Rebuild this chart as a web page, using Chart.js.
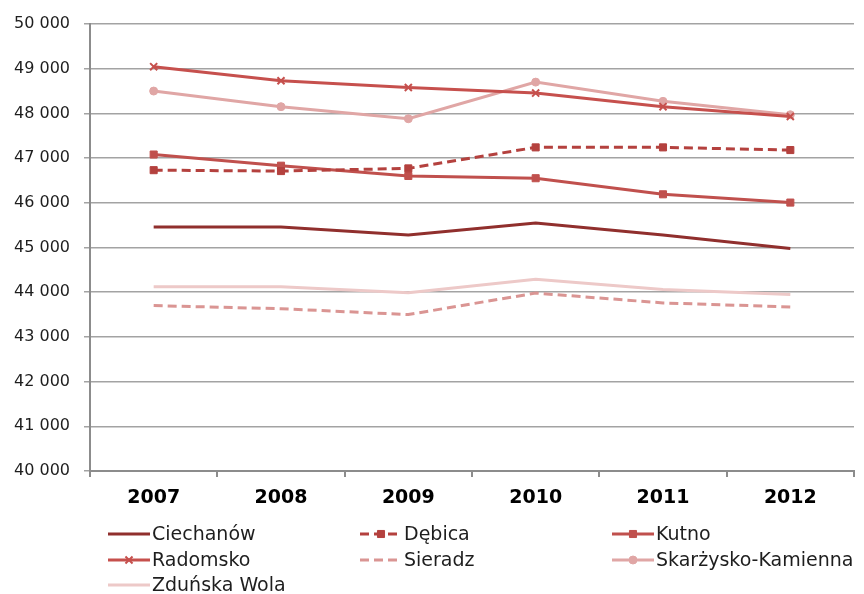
<!DOCTYPE html>
<html lang="pl">
<head>
    <meta charset="UTF-8">
    <title>Wykres</title>
    <script src="https://cdn.jsdelivr.net/npm/chart.js@4.4.0/dist/chart.umd.min.js"></script>
    <style>
        html, body { margin: 0; padding: 0; background: #fff; }
        .chart-wrapper { width: 864px; height: 594px; }
    </style>
</head>
<body>
<div class="chart-wrapper">
    <canvas id="chart" width="864" height="594"></canvas>
</div>
<script>
    const years = ['2007', '2008', '2009', '2010', '2011', '2012']

    const ciechanow = [45460, 45460, 45280, 45550, 45280, 44980]
    const debica = [46730, 46710, 46770, 47240, 47240, 47180]
    const kutno = [47080, 46830, 46600, 46550, 46190, 46005]
    const radomsko = [49045, 48730, 48580, 48455, 48150, 47930]
    const sieradz = [43700, 43630, 43500, 43980, 43760, 43670]
    const skarzysko = [48500, 48150, 47880, 48700, 48270, 47970]
    const zdunska = [44120, 44120, 43990, 44290, 44060, 43950]

    const yMin = 40000
    const yMax = 50000
    const yStep = 1000

    function series(label, data, color, extra) {
        return Object.assign({
            label: label,
            data: data,
            borderColor: color,
            backgroundColor: color,
            borderWidth: 3,
            pointRadius: 0,
            pointBorderWidth: 1,
            pointStyle: 'circle',
            tension: 0,
            fill: false
        }, extra || {})
    }

    const datasets = [
        series('Ciechanów', ciechanow, '#902f2d'),
        series('Dębica', debica, '#b4413e', {borderDash: [9, 5], pointStyle: 'rect', pointRadius: 5}),
        series('Kutno', kutno, '#c0504d', {pointStyle: 'rect', pointRadius: 5}),
        series('Radomsko', radomsko, '#c6504d', {pointStyle: 'crossRot', pointRadius: 5, pointBorderWidth: 2}),
        series('Sieradz', sieradz, '#da9593', {borderDash: [9, 5]}),
        series('Skarżysko-Kamienna', skarzysko, '#e0a6a5', {pointStyle: 'circle', pointRadius: 4}),
        series('Zduńska Wola', zdunska, '#edc9c8')
    ]

    // legend in three columns under the plot, like the original
    const gridLegend = {
        id: 'gridLegend',
        afterDraw(chart) {
            const ctx = chart.ctx
            const cols = [108, 360, 612]
            const rows = [534, 560, 585]
            ctx.save()
            chart.data.datasets.forEach((ds, i) => {
                const x = cols[i % 3]
                const y = rows[Math.floor(i / 3)]
                ctx.strokeStyle = ds.borderColor
                ctx.fillStyle = ds.backgroundColor
                ctx.lineWidth = 3
                ctx.setLineDash(ds.borderDash || [])
                ctx.beginPath()
                ctx.moveTo(x, y)
                ctx.lineTo(x + 42, y)
                ctx.stroke()
                ctx.setLineDash([])
                if (ds.pointRadius > 0) {
                    ctx.lineWidth = ds.pointBorderWidth
                    Chart.helpers.drawPoint(ctx, {
                        pointStyle: ds.pointStyle,
                        radius: ds.pointRadius,
                        borderWidth: ds.pointBorderWidth,
                        rotation: 0
                    }, x + 21, y)
                }
                ctx.fillStyle = '#1e1e1e'
                ctx.font = '19px "DejaVu Sans"'
                ctx.textBaseline = 'middle'
                ctx.textAlign = 'left'
                ctx.fillText(ds.label, x + 44, y + 1)
            })
            ctx.restore()
        }
    }

    new Chart(document.getElementById('chart'), {
        type: 'line',
        data: {
            labels: years,
            datasets: datasets
        },
        options: {
            responsive: false,
            animation: false,
            layout: {
                padding: {top: 24, right: 10, left: 0, bottom: 0}
            },
            plugins: {
                legend: {display: false},
                tooltip: {enabled: false}
            },
            scales: {
                x: {
                    offset: true,
                    grid: {
                        offset: true,
                        drawOnChartArea: false,
                        drawTicks: true,
                        tickLength: 6,
                        color: '#8c8c8c',
                        lineWidth: 2
                    },
                    border: {color: '#8c8c8c', width: 2},
                    ticks: {
                        color: '#000',
                        padding: 10,
                        font: {family: 'DejaVu Sans', size: 19, weight: 'bold'}
                    },
                    afterFit(scale) {
                        scale.height = 123
                    }
                },
                y: {
                    min: yMin,
                    max: yMax,
                    grid: {
                        color: '#a3a3a3',
                        lineWidth: 1.5,
                        tickLength: 6
                    },
                    border: {color: '#8c8c8c', width: 2},
                    ticks: {
                        stepSize: yStep,
                        color: '#1e1e1e',
                        padding: 14,
                        font: {family: 'DejaVu Sans', size: 16},
                        callback: (v) => String(v).replace(/\B(?=(\d{3})+(?!\d))/g, ' ')
                    },
                    afterFit(scale) {
                        scale.width = 90
                    }
                }
            }
        },
        plugins: [gridLegend]
    })
</script>
</body>
</html>
